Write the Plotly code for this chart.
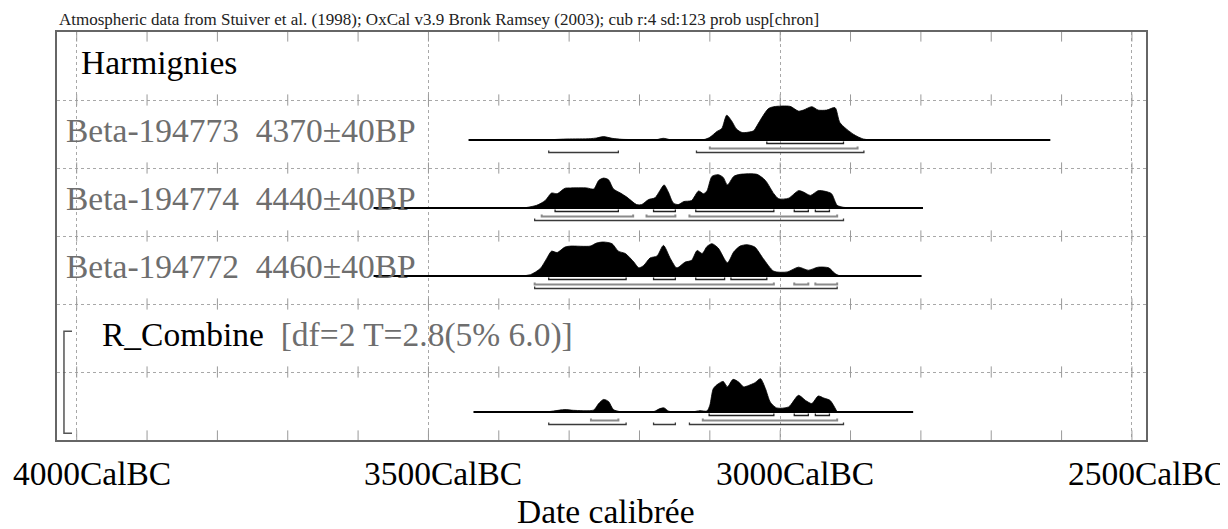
import plotly.graph_objects as go

# ---------------- data (calendar years BC, relative probability) ----------------
yrs_773 = [3335, 3303, 3270, 3261, 3251, 3239, 3225, 3199, 3176, 3166, 3156, 3109, 3100, 3090,
           3083, 3076, 3069, 3062, 3054, 3038, 3033, 3026, 3017, 3009, 2986, 2974, 2967, 2955,
           2946, 2934, 2922, 2915, 2896, 2882, 2870]
p_773 = [0, 0.03, 0.04, 0.06, 0.10, 0.05, 0.02, 0.01, 0.01, 0.05, 0.01, 0.01, 0.08, 0.25,
         0.34, 0.73, 0.56, 0.32, 0.22, 0.27, 0.42, 0.66, 0.92, 0.98, 0.99, 0.85, 0.88, 0.98,
         0.88, 0.88, 0.95, 0.51, 0.17, 0.03, 0]

yrs_774 = [3365, 3346, 3334, 3325, 3317, 3306, 3298, 3275, 3265, 3258, 3251, 3244, 3237, 3227,
           3218, 3204, 3197, 3187, 3178, 3171, 3165, 3159, 3152, 3145, 3137, 3126, 3116, 3109,
           3104, 3097, 3088, 3081, 3075, 3066, 3057, 3033, 3021, 3009, 3002, 2988, 2974, 2967,
           2957, 2946, 2936, 2927, 2919, 2910, 2896]
p_774 = [0, 0.08, 0.22, 0.44, 0.42, 0.58, 0.59, 0.59, 0.56, 0.81, 0.88, 0.83, 0.56, 0.44,
         0.32, 0.10, 0.10, 0.25, 0.30, 0.51, 0.68, 0.47, 0.15, 0.10, 0.19, 0.22, 0.50, 0.42,
         0.51, 0.93, 0.98, 0.90, 0.68, 0.93, 0.99, 0.99, 0.81, 0.42, 0.27, 0.29, 0.51, 0.47,
         0.37, 0.51, 0.49, 0.42, 0.08, 0.02, 0]

yrs_772 = [3370, 3355, 3341, 3332, 3325, 3317, 3306, 3298, 3270, 3261, 3251, 3239, 3230, 3220,
           3208, 3201, 3194, 3185, 3175, 3166, 3156, 3147, 3135, 3126, 3118, 3111, 3104, 3097,
           3088, 3075, 3066, 3057, 3047, 3036, 3024, 3009, 2990, 2974, 2960, 2946, 2931, 2922, 2915]
p_772 = [0, 0.04, 0.22, 0.51, 0.73, 0.69, 0.85, 0.88, 0.88, 0.97, 1.0, 0.95, 0.73, 0.66,
         0.41, 0.24, 0.31, 0.53, 0.59, 0.90, 0.51, 0.24, 0.41, 0.46, 0.75, 0.66, 0.87, 0.95,
         0.82, 0.39, 0.71, 0.88, 0.92, 0.85, 0.51, 0.14, 0.12, 0.26, 0.17, 0.26, 0.24, 0.07, 0]

yrs_comb = [3332, 3322, 3306, 3294, 3265, 3258, 3251, 3244, 3237, 3227, 3180, 3171, 3165, 3159,
            3152, 3123, 3114, 3104, 3100, 3095, 3088, 3081, 3075, 3067, 3059, 3052, 3045, 3036,
            3028, 3021, 3014, 3005, 2988, 2974, 2964, 2955, 2946, 2938, 2929, 2919]
p_comb = [0, 0.03, 0.07, 0.05, 0.06, 0.25, 0.37, 0.31, 0.07, 0.01, 0.01, 0.10, 0.12, 0.03,
          0.0, 0.01, 0.04, 0.03, 0.20, 0.69, 0.83, 0.90, 0.74, 0.96, 0.88, 0.74, 0.78, 0.86,
          0.98, 0.69, 0.29, 0.12, 0.15, 0.49, 0.34, 0.25, 0.47, 0.41, 0.34, 0]

# extent of each plotted distribution line
span_773 = [3443, 2616]
span_774 = [3578, 2797]
span_772 = [3578, 2799]
span_comb = [3436, 2811]

# highest-probability ranges (68.2 %, 95.4 %, 99.7 %)
r68_773 = [(3019, 2910)]
r95_773 = [(3100, 2890)]
r99_773 = [(3329, 3230), (3119, 2881)]

r68_774 = [(3320, 3230), (3180, 3149), (3120, 3009), (2980, 2960), (2950, 2930)]
r95_774 = [(3339, 3209), (3190, 3149), (3129, 2919)]
r99_774 = [(3349, 2910)]

r68_772 = [(3329, 3219), (3180, 3149), (3120, 3079), (3070, 3019)]
r95_772 = [(3349, 3009), (2980, 2960), (2950, 2919)]
r99_772 = [(3349, 2919)]

r68_comb = [(3101, 3009), (2980, 2960), (2950, 2930)]
r95_comb = [(3269, 3230), (3110, 2919)]
r99_comb = [(3329, 3219), (3180, 3149), (3129, 2910)]

labels = ["Beta-194773\u00a0\u00a04370±40BP",
          "Beta-194774\u00a0\u00a04440±40BP",
          "Beta-194772\u00a0\u00a04460±40BP"]
header_text = "Atmospheric data from Stuiver et al. (1998); OxCal v3.9 Bronk Ramsey (2003); cub r:4 sd:123 prob usp[chron]"
tick_years = [4000, 3500, 3000, 2500]

# ---------------- layout constants ----------------
# the page body has an 8px margin, so the figure is 8px smaller and offset
W, H = 1220, 521
ML, MR, MT, MB = 49, 82, 24, 89
ROW_PX = (H - MT - MB) / 6.0
FONT = "Liberation Serif"
FS = 33.5
GREY_TXT = "#6e6e6e"
BASE_OFF = 40 / ROW_PX      # baseline offset from row top
PEAK = 34 / ROW_PX          # height of probability 1
LVL = [3.5 / ROW_PX, 8.5 / ROW_PX, 12.5 / ROW_PX]
TICKUP = 2 / ROW_PX

fig = go.Figure()

# minor 100-year ticks on every row line
minor_years = list(range(4000, 2499, -100))
tx, ty = [], []
for r in range(7):
    for yv in minor_years:
        tx.append(yv)
        if r == 0:
            ty.append(4 / ROW_PX)
        elif r == 6:
            ty.append(6 - 4 / ROW_PX)
        else:
            ty.append(r)
fig.add_trace(go.Scatter(x=tx, y=ty, mode="markers", hoverinfo="skip", showlegend=False,
                         marker=dict(symbol="line-ns", size=8, line=dict(color="#9a9a9a", width=1))))

dists = [
    (1, yrs_773, p_773, span_773, r68_773, r95_773, r99_773),
    (2, yrs_774, p_774, span_774, r68_774, r95_774, r99_774),
    (3, yrs_772, p_772, span_772, r68_772, r95_772, r99_772),
    (5, yrs_comb, p_comb, span_comb, r68_comb, r95_comb, r99_comb),
]

bracket_styles = [("#222222", 1.3), ("#8a8a8a", 2.0), ("#3a3a3a", 1.3)]

for row, yrs, ps, span, r68, r95, r99 in dists:
    base = row + BASE_OFF
    fig.add_trace(go.Scatter(
        x=yrs, y=[base - p * PEAK for p in ps], mode="lines", fill="toself",
        fillcolor="black", line=dict(color="black", width=0.8, shape="spline", smoothing=0.7),
        hoverinfo="skip", showlegend=False))
    fig.add_trace(go.Scatter(x=span, y=[base, base], mode="lines",
                             line=dict(color="black", width=2), hoverinfo="skip", showlegend=False))
    for k, ranges in enumerate([r68, r95, r99]):
        lv = base + LVL[k]
        bx, by = [], []
        for a, b in ranges:
            bx += [a, a, b, b, None]
            by += [lv - TICKUP, lv, lv, lv - TICKUP, None]
        col, w = bracket_styles[k]
        fig.add_trace(go.Scatter(x=bx, y=by, mode="lines", line=dict(color=col, width=w),
                                 hoverinfo="skip", showlegend=False))

annotations = []
annotations.append(dict(text=header_text, xref="paper", yref="paper", x=0, y=1,
                        xanchor="left", yanchor="bottom", xshift=0, yshift=1, showarrow=False,
                        font=dict(family=FONT, size=17, color="#222")))
annotations.append(dict(text="Harmignies", xref="paper", yref="y", x=0, y=0.455,
                        xanchor="left", yanchor="middle", xshift=22, showarrow=False,
                        font=dict(family=FONT, size=FS, color="black")))
for i, lab in enumerate(labels):
    annotations.append(dict(text=lab, xref="paper", yref="y", x=0, y=i + 1.455,
                            xanchor="left", yanchor="middle", xshift=7, showarrow=False,
                            font=dict(family=FONT, size=FS, color=GREY_TXT)))
annotations.append(dict(text="R_Combine\u00a0\u00a0<span style='color:%s'>[df=2 T=2.8(5%% 6.0)]</span>" % GREY_TXT,
                        xref="paper", yref="y", x=0, y=4.455, xanchor="left", yanchor="middle",
                        xshift=43, showarrow=False, font=dict(family=FONT, size=FS, color="black")))
for ty_ in tick_years:
    annotations.append(dict(text="%dCalBC" % ty_, xref="x", yref="paper", x=ty_, y=0,
                            xanchor="center", yanchor="top", xshift=15, yshift=-13, showarrow=False,
                            font=dict(family=FONT, size=FS, color="black")))
annotations.append(dict(text="Date calibrée", xref="paper", yref="paper", x=0.504, y=0,
                        xanchor="center", yanchor="top", yshift=-51, showarrow=False,
                        font=dict(family=FONT, size=FS, color="black")))

shapes = [dict(type="path", xref="paper", yref="y",
               path="M 0.0138 4.40 L 0.0064 4.40 L 0.0064 5.90 L 0.0138 5.90",
               line=dict(color="#555", width=1.5))]

fig.update_layout(
    width=W, height=H, margin=dict(l=ML, r=MR, t=MT, b=MB),
    paper_bgcolor="white", plot_bgcolor="white", showlegend=False,
    annotations=annotations, shapes=shapes,
    xaxis=dict(range=[4028, 2480], tickvals=tick_years, showticklabels=False, ticks="",
               showgrid=True, gridcolor="#a8a8a8", griddash="dot", gridwidth=1, zeroline=False,
               showline=True, linecolor="#666", linewidth=2, mirror=True, fixedrange=True),
    yaxis=dict(range=[6, 0], tickvals=[1, 2, 3, 4, 5], showticklabels=False, ticks="",
               showgrid=True, gridcolor="#a8a8a8", griddash="dot", gridwidth=1, zeroline=False,
               showline=True, linecolor="#666", linewidth=2, mirror=True, fixedrange=True),
)

fig.write_html("out.html")
